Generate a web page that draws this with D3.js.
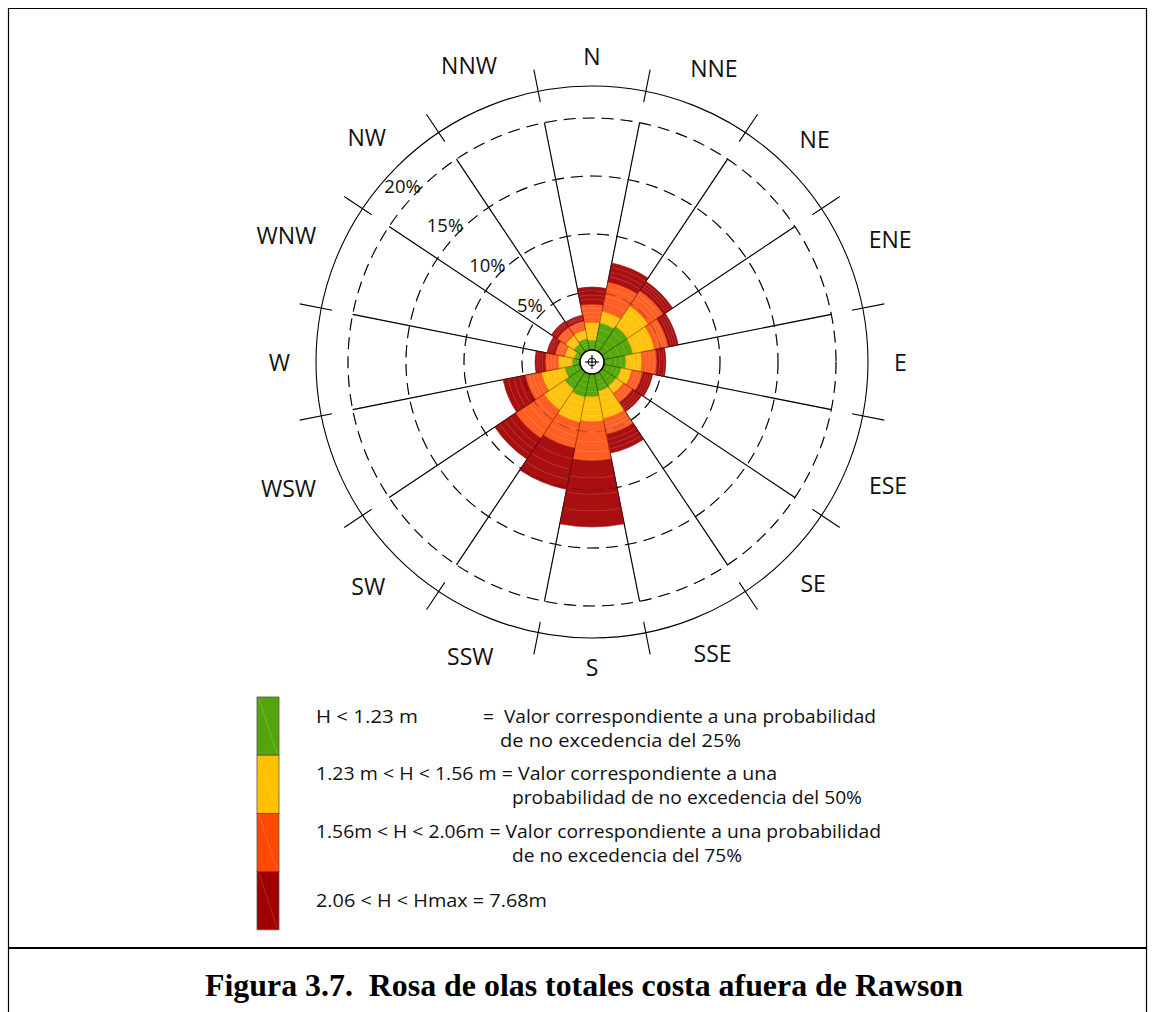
<!DOCTYPE html>
<html>
<head>
<meta charset="utf-8">
<script src="https://cdn.jsdelivr.net/npm/d3@7"></script>
<style>
  html, body { margin: 0; padding: 0; background: #fff; }
  svg { display: block; }
  text { white-space: pre; }
</style>
</head>
<body>
<svg id="chart" width="1155" height="1012"></svg>
<script>
// ---- data ----
const directions = ["N","NNE","NE","ENE","E","ESE","SE","SSE","S","SSW","SW","WSW","W","WNW","NW","NNW"];
// percentage of occurrence per height class (stacked, in %)
const greenVals  = [0.86,2.41,2.67,2.59,1.90,1.55,1.47,1.55,1.98,2.07,1.81,1.38,0.69,0.52,0.86,1.03];
const yellowVals = [1.55,1.04,2.16,1.89,1.38,0.95,0.77,2.42,2.16,2.24,2.16,2.07,1.21,0.86,0.86,0.78];
const orangeVals = [1.56,2.58,1.55,1.21,1.29,0.95,0.95,1.37,3.36,2.24,2.93,1.38,1.12,0.86,0.87,0.78];
const redVals    = [1.46,1.64,0.95,0.86,0.77,0.86,0.95,1.64,5.69,3.62,2.15,1.95,0.86,0.69,0.60,0.51];
const ringValues = [5,10,15,20];
const ringLabels = ["5%","10%","15%","20%"];
const legendLines = [
  ["H < 1.23 m", "=  Valor correspondiente a una probabilidad"],
  ["de no excedencia del 25%"],
  ["1.23 m < H < 1.56 m = Valor correspondiente a una"],
  ["probabilidad de no excedencia del 50%"],
  ["1.56m < H < 2.06m = Valor correspondiente a una probabilidad"],
  ["de no excedencia del 75%"],
  ["2.06 < H < Hmax = 7.68m"]
];
const titleText = "Figura 3.7.  Rosa de olas totales costa afuera de Rawson";

// ---- styles ----
const bandFill   = ["#55a70c", "#ffc20f", "#ff5f24", "#a90f10"];
const bandStroke = ["#4a9a08", "#f5b400", "#f04a10", "#951010"];
const legendFill = ["#55a50a", "#ffc000", "#ff4800", "#a00000"];

const svg = d3.select("#chart");
const W = 1155, H = 1012;
const cx = 592, cy = 362;
const deg = Math.PI / 180;

svg.append("rect").attr("width", W).attr("height", H).attr("fill", "#fff");

// frame
const frame = svg.append("g").attr("stroke", "#000").attr("fill", "none");
frame.append("line").attr("x1", 8).attr("x2", 1147).attr("y1", 8.5).attr("y2", 8.5).attr("stroke-width", 1.2);
frame.append("line").attr("x1", 8.5).attr("x2", 8.5).attr("y1", 8).attr("y2", H).attr("stroke-width", 1.2);
frame.append("line").attr("x1", 1146.5).attr("x2", 1146.5).attr("y1", 8).attr("y2", H).attr("stroke-width", 1.2);
frame.append("line").attr("x1", 8).attr("x2", 1147).attr("y1", 948).attr("y2", 948).attr("stroke-width", 2);

const r = d3.scaleLinear().domain([0, 20]).range([12, 244]);
const sector = 360 / directions.length;

const g = svg.append("g").attr("transform", `translate(${cx},${cy})`);

function polar(angleDeg, rad) {
  return [Math.sin(angleDeg * deg) * rad, -Math.cos(angleDeg * deg) * rad];
}

// outer circle + ticks
g.append("circle").attr("r", 276).attr("fill", "none").attr("stroke", "#000").attr("stroke-width", 1.1);
directions.forEach((d, i) => {
  const a = i * sector + sector / 2;
  const p1 = polar(a, 265), p2 = polar(a, 298);
  g.append("line").attr("x1", p1[0]).attr("y1", p1[1]).attr("x2", p2[0]).attr("y2", p2[1])
    .attr("stroke", "#000").attr("stroke-width", 1.1);
});

function drawGrid(layer, opacity) {
  ringValues.forEach(v => {
    layer.append("circle").attr("r", r(v)).attr("fill", "none")
      .attr("stroke", "#000").attr("stroke-width", 1.1).attr("stroke-dasharray", "12,7")
      .attr("opacity", opacity);
  });
  directions.forEach((d, i) => {
    const a = i * sector + sector / 2;
    const p1 = polar(a, r(0)), p2 = polar(a, r(20));
    layer.append("line").attr("x1", p1[0]).attr("y1", p1[1]).attr("x2", p2[0]).attr("y2", p2[1])
      .attr("stroke", "#000").attr("stroke-width", 1.1).attr("opacity", opacity);
  });
}
drawGrid(g.append("g"), 1);

// stacked bars
const series = [greenVals, yellowVals, orangeVals, redVals];
const arc = d3.arc();
const bars = g.append("g");
directions.forEach((d, i) => {
  let cum = 0;
  const a0 = (i * sector - sector / 2) * deg, a1 = (i * sector + sector / 2) * deg;
  series.forEach((vals, k) => {
    const inner = cum, outer = cum + vals[i];
    cum = outer;
    bars.append("path")
      .attr("d", arc({innerRadius: r(inner), outerRadius: r(outer), startAngle: a0, endAngle: a1}))
      .attr("fill", bandFill[k]).attr("stroke", bandStroke[k]).attr("stroke-width", 0.6);
    const n = 3;
    for (let j = 1; j <= n; j++) {
      const rr = r(inner) + (r(outer) - r(inner)) * j / (n + 1);
      bars.append("path")
        .attr("d", arc({innerRadius: rr, outerRadius: rr + 0.8, startAngle: a0 + 0.01, endAngle: a1 - 0.01}))
        .attr("fill", "#fff").attr("opacity", 0.18);
    }
  });
});

// faint grid over the bars
drawGrid(g.append("g"), 0.25);

// center hole with crosshair
g.append("circle").attr("r", 12).attr("fill", "#fff").attr("stroke", "#000").attr("stroke-width", 1.6);
g.append("circle").attr("r", 3.8).attr("fill", "none").attr("stroke", "#000").attr("stroke-width", 1.1);
g.append("line").attr("x1", -7).attr("x2", 7).attr("y1", 0).attr("y2", 0).attr("stroke", "#000").attr("stroke-width", 1.1);
g.append("line").attr("x1", 0).attr("x2", 0).attr("y1", -7).attr("y2", 7).attr("stroke", "#000").attr("stroke-width", 1.1);

// ring labels
ringValues.forEach((v, i) => {
  const p = polar(313, r(v) + 15);
  g.append("text").attr("x", p[0]).attr("y", p[1])
    .attr("text-anchor", "middle").attr("dominant-baseline", "central")
    .attr("font-family", "'Open Sans', sans-serif").attr("font-size", 18.5).attr("fill", "#111")
    .text(ringLabels[i]);
});

// direction labels
directions.forEach((d, i) => {
  const a = i * sector;
  const t = g.append("text").attr("text-anchor", "middle").attr("dominant-baseline", "central")
    .attr("font-family", "'Open Sans', sans-serif").attr("font-size", 23).attr("fill", "#111")
    .text(d);
  const tw = t.node().getComputedTextLength();
  const rad = 302 + 0.25 * tw + 0.25 * tw * Math.abs(Math.sin(a * deg));
  const p = polar(a, rad);
  t.attr("x", p[0]).attr("y", p[1]);
});

// legend
const lg = svg.append("g");
const lx = 257, ly = 697, lw = 22, lh = 58.2;
legendFill.forEach((c, i) => {
  lg.append("rect").attr("x", lx).attr("y", ly + i * lh).attr("width", lw).attr("height", lh)
    .attr("fill", c).attr("stroke", "#555").attr("stroke-width", 0.8);
  lg.append("line").attr("x1", lx + 2).attr("y1", ly + i * lh + 2).attr("x2", lx + lw - 2).attr("y2", ly + (i + 1) * lh - 2)
    .attr("stroke", "#fff").attr("stroke-opacity", 0.25).attr("stroke-width", 0.7);
});
const legFont = "'Open Sans', sans-serif";
const legSize = 19;
// [x, baseline, width] for each piece of each legend line
const legendPos = [
  [[316, 723, 102], [483, 723, 393]],
  [[500, 747, 241]],
  [[316, 780, 461]],
  [[512, 804, 350]],
  [[316, 838, 565]],
  [[512, 862, 230]],
  [[316, 907, 231]]
];
legendLines.forEach((pieces, i) => {
  pieces.forEach((t, j) => {
    const [x, y, w] = legendPos[i][j];
    lg.append("text").attr("x", x).attr("y", y)
      .attr("font-family", legFont).attr("font-size", legSize).attr("fill", "#111")
      .attr("textLength", w).attr("lengthAdjust", "spacingAndGlyphs").text(t);
  });
});

// title
svg.append("text").attr("x", 205).attr("y", 996)
  .attr("font-family", "'Liberation Serif', 'Times New Roman', serif").attr("font-weight", "bold")
  .attr("font-size", 31).attr("fill", "#000")
  .attr("textLength", 758).attr("lengthAdjust", "spacingAndGlyphs").text(titleText);
</script>
</body>
</html>
